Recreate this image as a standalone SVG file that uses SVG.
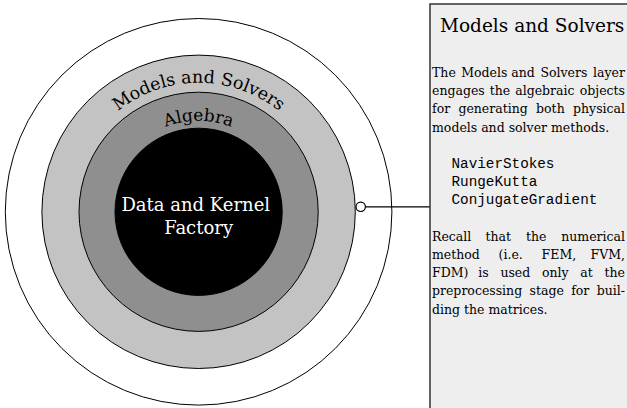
<svg xmlns="http://www.w3.org/2000/svg" width="627" height="408" viewBox="0 0 627 408">
  <style>
    .ring { stroke: #000; stroke-width: 1; }
    .lbl { font-family: "DejaVu Serif", "Liberation Serif", serif; fill: #000; }
    .body { font-family: "DejaVu Serif", "Liberation Serif", serif; font-size: 12.5px; fill: #000; }
    .code { font-family: "Liberation Mono", "DejaVu Sans Mono", monospace; font-size: 14.3px; fill: #000; }
    .conn { stroke: #000; stroke-width: 1.2; fill: none; }
  </style>
  <defs>
    <path id="arcOuter" d="M 69.6 211.8 A 129 129 0 0 1 327.6 211.8"/>
    <path id="arcInner" d="M 107.6 211.8 A 91 91 0 0 1 289.6 211.8"/>
  </defs>

  <g id="outer">
    <circle cx="198.6" cy="211.8" r="193.3" fill="#ffffff" class="ring"/>
  </g>

  <g id="models-solvers">
    <circle cx="198.6" cy="211.8" r="156.7" fill="#c3c3c3" class="ring"/>
    <text class="lbl" font-size="17.5"><textPath href="#arcOuter" startOffset="50%" text-anchor="middle">Models and Solvers</textPath></text>
  </g>

  <g id="algebra">
    <circle cx="198.6" cy="211.8" r="119.6" fill="#8f8f8f" class="ring"/>
    <text class="lbl" font-size="17"><textPath href="#arcInner" startOffset="50%" text-anchor="middle">Algebra</textPath></text>
  </g>

  <g id="data-kernel">
    <circle cx="198.6" cy="211.8" r="83.6" fill="#000000" class="ring"/>
    <text class="lbl" font-size="18" text-anchor="middle" style="fill:#ffffff">
      <tspan x="198.6" y="211">Data and Kernel</tspan>
      <tspan x="198.6" y="234">Factory</tspan>
    </text>
  </g>

  <g id="connectors">
    <line x1="365.4" y1="206.8" x2="430" y2="206.8" class="conn"/>
    <circle cx="360.7" cy="206.8" r="4.7" fill="#ffffff" stroke="#000" stroke-width="1.2"/>
  </g>

  <g id="panel">
    <rect x="430" y="4" width="220" height="420" fill="#eeeeee" stroke="#333333" stroke-width="1.5"/>
    <text class="lbl" font-size="18.5" x="440" y="32">Models and Solvers</text>
    <text class="body">
      <tspan x="432" y="77">The</tspan><tspan x="461.3" y="77">Models</tspan><tspan x="511.2" y="77">and</tspan><tspan x="540.4" y="77">Solvers</tspan><tspan x="625" y="77" text-anchor="end">layer</tspan>
    </text>
    <text class="body">
      <tspan x="432" y="95.2">engages</tspan><tspan x="489.7" y="95.2">the</tspan><tspan x="515.2" y="95.2">algebraic</tspan><tspan x="625" y="95.2" text-anchor="end">objects</tspan>
    </text>
    <text class="body">
      <tspan x="432" y="113.4">for</tspan><tspan x="458.4" y="113.4">generating</tspan><tspan x="536.1" y="113.4">both</tspan><tspan x="625" y="113.4" text-anchor="end">physical</tspan>
    </text>
    <text class="body" x="432" y="131.6">models and solver methods.</text>

    <text class="code">
      <tspan x="451.5" y="168">NavierStokes</tspan>
      <tspan x="451.5" y="186.2">RungeKutta</tspan>
      <tspan x="451.5" y="204.4">ConjugateGradient</tspan>
    </text>

    <text class="body">
      <tspan x="432" y="240.8">Recall</tspan><tspan x="485.5" y="240.8">that</tspan><tspan x="525.9" y="240.8">the</tspan><tspan x="625" y="240.8" text-anchor="end">numerical</tspan>
    </text>
    <text class="body">
      <tspan x="432" y="259">method</tspan><tspan x="498.6" y="259">(i.e.</tspan><tspan x="541.6" y="259">FEM,</tspan><tspan x="625" y="259" text-anchor="end">FVM,</tspan>
    </text>
    <text class="body">
      <tspan x="432" y="277.2">FDM)</tspan><tspan x="478.3" y="277.2">is</tspan><tspan x="500.4" y="277.2">used</tspan><tspan x="542" y="277.2">only</tspan><tspan x="580.3" y="277.2">at</tspan><tspan x="625" y="277.2" text-anchor="end">the</tspan>
    </text>
    <text class="body">
      <tspan x="432" y="295.4">preprocessing</tspan><tspan x="529.6" y="295.4">stage</tspan><tspan x="571.2" y="295.4">for</tspan><tspan x="625" y="295.4" text-anchor="end">buil-</tspan>
    </text>
    <text class="body" x="432" y="313.6">ding the matrices.</text>
  </g>
</svg>
